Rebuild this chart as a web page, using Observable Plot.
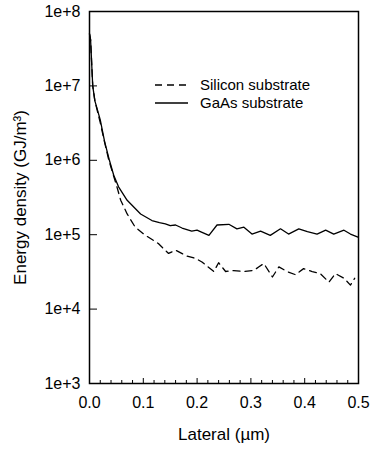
<!DOCTYPE html>
<html>
<head>
<meta charset="utf-8">
<script src="https://cdn.jsdelivr.net/npm/d3@7"></script>
<script src="https://cdn.jsdelivr.net/npm/@observablehq/plot@0.6"></script>
<style>
  body { margin: 0; background: #fff; }
  #wrap { position: relative; width: 377px; height: 451px; font-family: "Liberation Sans", Arial, sans-serif; }
  #legend { position: absolute; left: 0; top: 0; pointer-events: none; }
</style>
</head>
<body>
<div id="wrap"></div>
<script>
// Lateral positions (µm) and energy density (GJ/m^3)
const gaasX = [0, 0.002, 0.006, 0.010, 0.020, 0.028, 0.037, 0.045, 0.054, 0.070, 0.095, 0.116, 0.130, 0.141, 0.150, 0.160, 0.172, 0.190, 0.200, 0.206, 0.222, 0.237, 0.259, 0.274, 0.287, 0.302, 0.318, 0.336, 0.355, 0.370, 0.389, 0.405, 0.423, 0.439, 0.454, 0.473, 0.485, 0.499];
const gaasY = [5.0e7, 4.2e7, 1.0e7, 6.3e6, 3.5e6, 1.8e6, 1.0e6, 6.3e5, 4.4e5, 2.9e5, 1.9e5, 1.55e5, 1.45e5, 1.4e5, 1.32e5, 1.35e5, 1.23e5, 1.12e5, 1.15e5, 1.1e5, 9.8e4, 1.35e5, 1.38e5, 1.2e5, 1.26e5, 1.02e5, 1.12e5, 9.8e4, 1.2e5, 1.02e5, 1.2e5, 1.1e5, 1.02e5, 1.15e5, 1.02e5, 1.15e5, 1.02e5, 9.3e4];

const siX = [0, 0.002, 0.006, 0.010, 0.020, 0.028, 0.036, 0.051, 0.058, 0.070, 0.085, 0.104, 0.128, 0.147, 0.160, 0.180, 0.197, 0.209, 0.231, 0.240, 0.253, 0.268, 0.287, 0.305, 0.315, 0.324, 0.340, 0.352, 0.367, 0.383, 0.398, 0.414, 0.429, 0.445, 0.457, 0.473, 0.485, 0.493];
const siY = [5.0e7, 4.2e7, 1.0e7, 6.3e6, 3.2e6, 1.75e6, 1.0e6, 4.4e5, 2.9e5, 1.9e5, 1.26e5, 9.8e4, 7.6e4, 5.6e4, 6.2e4, 5.2e4, 4.8e4, 4.3e4, 3.2e4, 4.2e4, 3.2e4, 3.3e4, 3.2e4, 3.3e4, 3.7e4, 4.1e4, 2.7e4, 3.7e4, 3.2e4, 2.9e4, 3.5e4, 3.2e4, 3.0e4, 2.3e4, 3.0e4, 2.6e4, 2.1e4, 2.6e4];

const xTicks = [0, 0.1, 0.2, 0.3, 0.4, 0.5];
const xMinor = [0.02, 0.04, 0.06, 0.08, 0.12, 0.14, 0.16, 0.18, 0.22, 0.24, 0.26, 0.28, 0.32, 0.34, 0.36, 0.38, 0.42, 0.44, 0.46, 0.48];
const yTicks = [1e3, 1e4, 1e5, 1e6, 1e7, 1e8];
const yTickLabels = ["1e+3", "1e+4", "1e+5", "1e+6", "1e+7", "1e+8"];

const seriesNames = ["Silicon substrate", "GaAs substrate"];

const gaas = gaasX.map((x, i) => ({x, y: gaasY[i]}));
const si = siX.map((x, i) => ({x, y: siY[i]}));

const W = 377, H = 451, mL = 89, mR = 19, mT = 11, mB = 68;
const innerW = W - mL - mR, innerH = H - mT - mB;

const chart = Plot.plot({
  width: W,
  height: H,
  marginLeft: mL,
  marginRight: mR,
  marginTop: mT,
  marginBottom: mB,
  style: {fontFamily: "'Liberation Sans', Arial, sans-serif", fontSize: "16px", color: "#000", background: "#fff"},
  x: {domain: [0, 0.5]},
  y: {type: "log", domain: [1e3, 1e8]},
  marks: [
    Plot.axisX({ticks: xTicks, tickSize: 0, tickPadding: 13, tickFormat: d3.format(".1f"), fontSize: 16,
      label: "Lateral (µm)", labelArrow: "none", labelAnchor: "center", labelOffset: 56}),
    Plot.axisY({ticks: yTicks, tickSize: 0, tickPadding: 9, tickFormat: d => yTickLabels[yTicks.indexOf(d)], fontSize: 16,
      label: "Energy density (GJ/m³)", labelArrow: "none", labelAnchor: "center", labelOffset: 76}),
    Plot.tickX(xTicks, {x: d => d, insetTop: innerH - 5, stroke: "#000", strokeWidth: 1}),
    Plot.tickX(xMinor, {x: d => d, insetTop: innerH - 3, stroke: "#000", strokeWidth: 1}),
    Plot.tickY(yTicks, {y: d => d, insetRight: innerW - 8, stroke: "#000", strokeWidth: 1}),
    Plot.line(si, {x: "x", y: "y", stroke: "#000", strokeWidth: 1.3, strokeDasharray: "7,5"}),
    Plot.line(gaas, {x: "x", y: "y", stroke: "#000", strokeWidth: 1.3}),
    Plot.frame({stroke: "#000", strokeWidth: 1.5})
  ]
});

d3.select(chart).selectAll('[aria-label$="axis label"]').attr("font-size", 17).selectAll("text").attr("font-size", 17);

const wrap = document.getElementById("wrap");
wrap.appendChild(chart);

// Legend overlay
const ns = "http://www.w3.org/2000/svg";
const leg = document.createElementNS(ns, "svg");
leg.setAttribute("id", "legend");
leg.setAttribute("width", W);
leg.setAttribute("height", H);
const items = [
  {name: seriesNames[0], dash: "7,5", y: 85},
  {name: seriesNames[1], dash: null, y: 103}
];
items.forEach(it => {
  const l = document.createElementNS(ns, "line");
  l.setAttribute("x1", 155); l.setAttribute("x2", 188);
  l.setAttribute("y1", it.y); l.setAttribute("y2", it.y);
  l.setAttribute("stroke", "#000"); l.setAttribute("stroke-width", 1.3);
  if (it.dash) l.setAttribute("stroke-dasharray", it.dash);
  leg.appendChild(l);
  const t = document.createElementNS(ns, "text");
  t.setAttribute("x", 200); t.setAttribute("y", it.y);
  t.setAttribute("dy", "0.35em");
  t.setAttribute("font-size", 15);
  t.setAttribute("font-family", "'Liberation Sans', Arial, sans-serif");
  t.textContent = it.name;
  leg.appendChild(t);
});
wrap.appendChild(leg);
</script>
</body>
</html>
